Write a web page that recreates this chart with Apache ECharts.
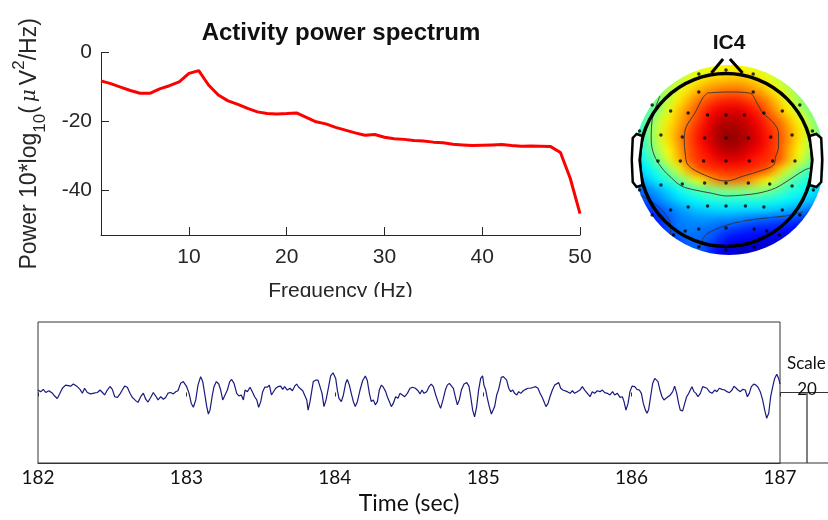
<!DOCTYPE html>
<html><head><meta charset="utf-8">
<script src="https://cdn.jsdelivr.net/npm/echarts@6/dist/echarts.min.js"></script>
<style>
html,body{margin:0;padding:0;background:#fff;overflow:hidden;}
#wrap{position:relative;width:828px;height:520px;overflow:hidden;}
#heat{position:absolute;left:624px;top:55px;width:210px;height:210px;filter:blur(4px);clip-path:circle(95px at 105px 105px);}
#main{position:absolute;left:0;top:0;width:828px;height:520px;z-index:2;}
</style></head><body>
<div id="wrap"><div id="heat"></div><div id="main"></div></div>
<script>
// ---------- power spectrum ----------
const freqHz = [1,2,3,4,5,6,7,8,9,10,11,12,13,14,15,16,17,18,19,20,21,22,23,24,25,26,27,28,29,30,31,32,33,34,35,36,37,38,39,40,41,42,43,44,45,46,47,48,49,50];
const powerDb = [-8.2,-9.0,-10.0,-11.0,-11.8,-11.8,-10.5,-9.6,-8.5,-6.0,-5.2,-9.4,-12.3,-14.0,-15.0,-16.2,-17.2,-17.7,-17.8,-17.7,-17.5,-18.8,-20.1,-20.7,-21.7,-22.5,-23.3,-24.0,-23.8,-24.6,-25.0,-25.2,-25.5,-25.7,-26.0,-26.2,-26.6,-26.8,-27.0,-26.9,-26.8,-26.7,-27.0,-27.2,-27.1,-27.2,-27.3,-29.0,-36.5,-46.8];
const freqTicks = [10,20,30,40,50];
const powerTicks = [-40,-20,0];

// ---------- EEG activity trace (sec, µV) ----------
const eegTime = [
182.000,182.018,182.036,182.052,182.074,182.097,182.112,182.130,182.148,182.164,
182.186,182.198,182.220,182.238,182.261,182.283,182.299,182.314,182.332,182.355,
182.377,182.400,182.418,182.434,182.449,182.467,182.485,182.501,182.517,182.535,
182.553,182.568,182.584,182.602,182.620,182.636,182.658,182.674,182.692,182.710,
182.726,182.741,182.759,182.777,182.793,182.809,182.827,182.845,182.860,182.876,
182.894,182.912,182.928,182.943,182.961,182.979,
183.002,183.018,183.033,183.047,183.063,183.078,183.096,183.110,183.123,183.137,
183.148,183.159,183.173,183.186,183.202,183.218,183.231,183.245,183.258,183.276,
183.292,183.305,183.321,183.339,183.355,183.370,183.384,183.395,183.411,183.429,
183.444,183.460,183.474,183.487,183.501,183.514,183.528,183.546,183.559,183.573,
183.586,183.602,183.617,183.635,183.649,183.662,183.680,183.698,183.714,183.730,
183.743,183.757,183.770,183.784,183.797,183.811,183.820,183.833,183.844,183.855,
183.871,183.887,183.900,183.914,183.927,183.941,183.954,183.972,183.988,
184.006,184.017,184.028,184.044,184.058,184.073,184.084,184.098,184.111,184.125,
184.138,184.152,184.170,184.188,184.206,184.219,184.233,184.246,184.260,184.273,
184.287,184.300,184.314,184.327,184.343,184.354,184.368,184.381,184.394,184.410,
184.426,184.439,184.455,184.471,184.489,184.507,184.525,184.543,184.561,184.574,
184.588,184.601,184.619,184.635,184.650,184.664,184.680,184.695,184.713,184.729,
184.745,184.758,184.772,184.785,184.799,184.812,184.826,184.839,184.853,184.871,
184.889,184.904,184.916,184.929,184.942,184.956,184.969,184.983,184.996,
185.005,185.017,185.028,185.041,185.055,185.064,185.077,185.091,185.104,185.113,
185.122,185.136,185.149,185.158,185.172,185.185,185.199,185.212,185.226,185.239,
185.253,185.270,185.286,185.302,185.320,185.338,185.354,185.369,185.383,185.396,
185.410,185.423,185.437,185.450,185.466,185.482,185.495,185.509,185.522,185.536,
185.549,185.567,185.585,185.601,185.616,185.634,185.652,185.668,185.684,185.702,
185.720,185.735,185.751,185.769,185.787,185.803,185.819,185.837,185.854,185.872,
185.886,185.904,185.922,185.938,185.949,185.962,185.976,185.989,186.003,
186.021,186.036,186.052,186.066,186.079,186.093,186.104,186.115,186.128,186.142,
186.156,186.165,186.178,186.191,186.205,186.218,186.232,186.245,186.261,186.277,
186.290,186.304,186.317,186.328,186.344,186.358,186.371,186.385,186.398,186.407,
186.420,186.434,186.447,186.463,186.479,186.492,186.508,186.524,186.542,186.560,
186.575,186.591,186.609,186.627,186.643,186.659,186.677,186.690,186.703,186.717,
186.733,186.748,186.766,186.780,186.793,186.807,186.823,186.838,186.852,186.867,
186.883,186.897,186.910,186.924,186.937,186.951,186.964,186.978,186.991,187.000];
const eegUv = [
0.7,0.2,0.9,0.0,0.5,-0.2,-1.0,-1.7,-0.2,1.2,
2.1,2.4,1.8,2.4,1.8,0.9,-0.2,1.2,0.0,-0.4,
-0.2,0.0,0.7,0.0,-0.7,0.7,1.7,0.9,-1.2,-1.4,
-0.4,0.7,1.8,1.5,-0.2,-1.4,-2.3,-2.8,-1.2,-0.2,
-1.9,-2.7,-1.4,0.0,-1.0,-2.1,-1.2,-1.9,-1.4,-0.2,
0.0,-0.4,0.2,0.5,2.6,3.1,
1.65,-0.24,-3.1,-4.2,-2.1,2.1,4.5,3.1,-0.24,-4.0,
-6.1,-5.0,-1.2,1.65,3.1,2.4,0.7,-2.1,-1.65,0.7,
3.1,3.7,2.6,-0.24,-1.0,-0.7,-2.1,0.7,0.24,1.5,
0.24,-1.2,-2.1,-4.2,-2.6,0.24,1.5,1.5,2.1,-0.7,
-0.24,1.2,1.65,1.8,0.9,1.65,0.7,1.2,0.5,1.8,
2.4,1.5,1.8,0.5,0.7,-2.1,-5.0,-2.6,0.24,3.1,
3.5,3.5,3.7,-0.24,-4.0,-2.1,0.7,4.7,5.6,
4.0,0.7,-1.65,-2.6,-0.7,2.6,3.7,2.1,-0.24,-2.6,
-4.0,-2.6,0.7,3.4,4.7,3.4,-0.24,-2.6,-2.1,-3.5,
-2.6,0.7,2.1,1.5,0.24,-1.2,-2.6,-4.0,-3.1,-1.2,
-1.65,-0.24,-0.7,-1.2,-0.24,1.2,1.5,1.2,0.5,-0.4,
0.7,-0.24,0.24,1.65,2.4,1.65,-0.7,-2.6,-4.5,-2.1,
0.7,2.1,2.6,2.4,1.2,-1.2,-3.5,-2.1,0.7,2.4,
2.8,1.8,-1.2,-5.0,-6.9,-4.0,0.7,4.0,4.7,
2.1,0.7,-1.65,-4.0,-6.1,-6.4,-4.0,-0.7,0.9,2.6,
4.3,4.5,4.3,3.5,1.2,0.24,0.7,-0.24,-0.7,0.24,
-0.24,0.5,0.9,1.2,1.2,1.5,1.65,1.2,-0.24,-1.2,
-2.6,-4.0,-3.1,-1.2,0.7,2.1,2.4,2.8,1.2,0.7,
1.2,0.24,-0.24,0.5,-0.24,0.24,0.7,1.65,0.7,-0.24,
-1.2,0.24,-0.24,0.5,0.24,0.7,-0.05,-0.24,-0.7,0.24,
-0.7,-0.24,-1.4,-1.2,-2.6,-5.0,-3.1,0.24,1.8,
1.65,0.9,0.7,-0.24,-3.1,-5.0,-5.9,-4.8,-1.2,2.6,
4.0,4.5,3.1,0.7,-1.2,-2.1,-1.65,-1.2,-0.7,0.24,
1.8,-0.24,-3.1,-5.0,-5.2,-3.1,-1.2,-0.24,0.9,1.65,
0.24,-0.24,-1.2,-0.24,1.65,1.8,1.2,0.24,-0.24,0.7,
0.24,1.2,0.9,0.7,0.24,-0.05,0.7,1.8,1.65,0.7,
0.24,0.9,0.7,-1.2,-0.24,1.65,2.4,2.1,1.5,0.24,
-2.1,-5.0,-7.3,-5.9,-1.2,1.65,4.0,5.2,4.0,2.4];
const timeRange = [182, 187];
const scaleUv = 20;

// ---------- IC4 scalp map (jet scale position ×100, rows top→bottom) ----------
const topoX = [-100,-90,-80,-70,-60,-50,-40,-30,-20,-10,0,10,20,30,40,50,60,70,80,90,100];
const topoY = [100,90,80,70,60,50,40,30,20,10,0,-10,-20,-30,-40,-50,-60,-70,-80,-90,-100];
const topoRows = [
[41,43,46,49,52,54,56,58,60,62,63,63,61,59,57,55,52,49,46,44,42],
[42,44,47,50,53,55,57,59,61,63,64,64,62,60,58,56,53,50,47,45,43],
[40,42,45,48,52,56,60,64,67,68,69,69,68,65,61,57,53,49,46,43,41],
[40,43,46,51,55,60,65,70,73,75,76,76,74,71,66,61,56,52,48,45,42],
[40,44,47,50,57,64,70,76,80,83,84,84,81,78,73,66,60,53,49,46,43],
[38,42,45,52,60,68,74,80,85,89,90,90,87,83,77,70,63,56,50,46,43],
[37,42,48,56,64,70,76,82,88,93,94,94,91,87,81,76,69,62,55,48,44],
[36,42,50,58,66,72,79,85,90,96,97,96,93,89,84,79,72,65,57,50,45],
[35,40,48,58,66,73,80,86,91,96,98,97,94,90,85,80,73,65,57,48,44],
[34,39,46,55,63,71,79,84,88,93,95,94,91,88,84,79,71,63,55,47,43],
[32,36,42,50,60,69,79,83,85,89,90,90,87,84,83,80,70,60,52,45,42],
[30,33,37,42,50,60,71,79,82,83,84,84,83,82,78,67,58,50,45,40,37],
[26,28,33,38,42,48,56,63,70,76,78,77,74,68,62,55,48,43,40,37,34],
[20,22,26,30,34,38,42,46,48,51,52,52,52,53,50,46,42,40,37,34,31],
[16,18,22,26,30,34,36,38,40,41,41,41,41,41,40,39,37,35,33,30,27],
[13,15,17,20,24,27,30,32,33,34,34,34,34,34,33,32,30,28,23,20,18],
[11,12,13,16,21,25,26,27,27,26,26,25,23,22,21,20,19,17,15,13,12],
[10,11,12,15,20,24,25,24,23,21,19,17,16,15,15,14,13,12,11,10,10],
[9,10,11,13,16,20,23,23,21,17,13,12,11,10,10,9,9,8,8,8,8],
[8,9,10,12,15,18,21,22,17,12,9,8,7,7,7,7,7,7,7,7,7],
[7,8,9,11,14,17,20,21,16,11,8,7,6,6,6,6,6,6,6,6,6]];
const jetColors = ['#00007f','#0000ff','#007fff','#00ffff','#7fff7f','#ffff00','#ff7f00','#ff0000','#7f0000'];

const electrodes = [[-28,86],[0,90],[28,86],[-28,68],[28,68],[-76,55],[76,55],
[-57,49],[-39,47],[-19,45],[0,45],[19,45],[39,47],[58,49],[-89,29],[89,29],
[-67,25],[-45,23],[-22,22],[0,22],[23,22],[46,23],[68,25],
[-70,-1],[-47,-1],[-23,-1],[0,-1],[24,-1],[48,-1],[71,-1],[-89,-30],[90,-30],
[-67,-25],[-45,-24],[-22,-23],[0,-23],[23,-23],[45,-24],[68,-26],
[-57,-50],[-39,-47],[-19,-46],[0,-46],[20,-46],[39,-47],[58,-50],[-76,-55],[76,-55],
[-42,-71],[-28,-69],[0,-68],[29,-69],[42,-71],[-54,-75],[55,-75],[-28,-87],[0,-90],[29,-87]];
const contourInner = [[-19,67],[1,68],[24,67],[33,55],[38,47],[49,37],[54,27],[54,13],[51,3],[49,-5],[38,-10],[18,-16],[0,-21],[-22,-15],[-39,-5],[-42,7],[-43,20],[-41,33],[-32,47],[-24,62],[-19,67]];
const contourMid = [[-68,64],[-76,40],[-77,20],[-74,5],[-66,-8],[-56,-18],[-46,-26],[-32,-30],[-16,-33],[1,-36],[18,-35],[34,-33],[51,-28],[68,-18],[81,-10],[94,-6]];
const contourLow = [[-27,-88],[-22,-76],[-12,-70],[1,-65],[18,-61],[41,-58],[61,-56],[79,-52]];
const contourCorner = [[-88,-35],[-72,-45],[-62,-55],[-57,-65],[-57,-75]];
const headRadius = 89;
const noseLeft = [[-15,87],[-3,101]];
const noseRight = [[4,101],[17,87]];
const earLeft = [[-86,24],[-92,26],[-96,22],[-97,0],[-96,-22],[-92,-27],[-86,-25],[-89,0]];
const earRight = [[86,24],[93,26],[98,22],[99,0],[98,-22],[93,-27],[86,-25],[89,0]];

// ---------- scalp map heat layer ----------
const heatData = [];
topoRows.forEach((row, r) => row.forEach((v, c) => heatData.push([c, r, v])));
const heatChart = echarts.init(document.getElementById('heat'));
heatChart.setOption({
  animation: false,
  grid: {left: 0, right: 0, top: 0, bottom: 0},
  xAxis: {type: 'category', data: topoX, show: false},
  yAxis: {type: 'category', data: topoY, inverse: true, show: false},
  visualMap: {show: false, min: 0, max: 100, dimension: 2, inRange: {color: jetColors}},
  series: [{type: 'heatmap', data: heatData, itemStyle: {borderWidth: 0}}]
});

// ---------- main chart ----------
const F1 = '"Liberation Sans", Arial, sans-serif';
const F2 = 'Lato, "Open Sans", sans-serif';
const axisCol = '#262626';
const chart = echarts.init(document.getElementById('main'));
const headSeries = (data) => ({type: 'line', xAxisIndex: 3, yAxisIndex: 2, data: data, symbol: 'none', smooth: 0.35, lineStyle: {color: '#333', width: 0.9}, z: 3, silent: true});
chart.setOption({
  animation: false,
  backgroundColor: 'rgba(0,0,0,0)',
  title: [
    {text: 'Activity power spectrum', left: 341, top: 21, textAlign: 'center', padding: 0,
     textStyle: {fontFamily: F1, fontSize: 24, fontWeight: 'bold', color: '#111'}},
    {text: 'IC4', left: 729, top: 33, textAlign: 'center', padding: 0,
     textStyle: {fontFamily: F1, fontSize: 21, fontWeight: 'bold', color: '#111'}}
  ],
  grid: [
    {left: 101, top: 52.7, width: 479, height: 182.3},
    {left: 38, top: 322, width: 742, height: 141, show: true, borderColor: '#333', borderWidth: 1, backgroundColor: 'rgba(0,0,0,0)'},
    {left: 624, top: 55, width: 210, height: 210}
  ],
  xAxis: [
    {gridIndex: 0, type: 'value', min: 1, max: 50,
     axisLine: {show: true, onZero: false, lineStyle: {color: axisCol, width: 1}},
     axisTick: {show: true, inside: true, length: 8, customValues: freqTicks, lineStyle: {color: axisCol}},
     axisLabel: {customValues: freqTicks, fontFamily: F1, fontSize: 21, color: axisCol, margin: 12},
     splitLine: {show: false},
     name: 'Frequency (Hz)', nameLocation: 'middle', nameGap: 46,
     nameTextStyle: {fontFamily: F1, fontSize: 21, color: axisCol}},
    {gridIndex: 1, type: 'value', min: timeRange[0], max: timeRange[1], interval: 1,
     axisLine: {show: true, onZero: false, lineStyle: {color: '#333', width: 1}},
     axisTick: {show: false},
     axisLabel: {fontFamily: F2, fontSize: 19, color: '#111', margin: 5},
     splitLine: {show: false},
     name: 'Time (sec)', nameLocation: 'middle', nameGap: 29,
     nameTextStyle: {fontFamily: F2, fontSize: 23, color: '#111'}},
    {gridIndex: 1, type: 'value', position: 'top', min: timeRange[0], max: timeRange[1], interval: 1,
     axisLine: {show: false}, axisTick: {show: true, inside: true, length: 4, lineStyle: {color: '#333'}},
     axisLabel: {show: false}, splitLine: {show: false}},
    {gridIndex: 2, type: 'value', min: -105, max: 105, show: false}
  ],
  yAxis: [
    {gridIndex: 0, type: 'value', min: -53, max: 0,
     axisLine: {show: true, onZero: false, lineStyle: {color: axisCol, width: 1}},
     axisTick: {show: true, inside: true, length: 8, customValues: powerTicks, lineStyle: {color: axisCol}},
     axisLabel: {customValues: powerTicks, fontFamily: F1, fontSize: 21, color: axisCol, margin: 9},
     splitLine: {show: false},
     name: '{a|Power 10*log}{s|10}{a|(}{m|μ}{a|V}{p|2}{a|/Hz)}',
     nameLocation: 'middle', nameRotate: 90, nameGap: 52,
     nameTextStyle: {fontFamily: F1, fontSize: 23, color: axisCol, rich: {
       a: {fontFamily: F1, fontSize: 23, lineHeight: 38, color: axisCol},
       s: {fontFamily: F1, fontSize: 17, lineHeight: 17, verticalAlign: 'bottom', color: axisCol},
       p: {fontFamily: F1, fontSize: 17, lineHeight: 17, verticalAlign: 'top', color: axisCol},
       m: {fontFamily: '"DejaVu Serif", serif', fontStyle: 'italic', fontSize: 20, lineHeight: 38, padding: [0, 4, 0, 4], color: axisCol}
     }}},
    {gridIndex: 1, type: 'value', min: -scaleUv, max: scaleUv, show: false},
    {gridIndex: 2, type: 'value', min: -105, max: 105, show: false}
  ],
  series: [
    {type: 'line', xAxisIndex: 0, yAxisIndex: 0, data: freqHz.map((f, i) => [f, powerDb[i]]),
     symbol: 'none', lineStyle: {color: '#ff0000', width: 3}, z: 5},
    {type: 'line', xAxisIndex: 1, yAxisIndex: 1, data: eegTime.map((t, i) => [t, eegUv[i]]),
     symbol: 'none', lineStyle: {color: '#1a1a7e', width: 1.2}, z: 5},
    headSeries(contourInner), headSeries(contourMid), headSeries(contourLow), headSeries(contourCorner),
    {type: 'scatter', xAxisIndex: 3, yAxisIndex: 2, data: electrodes, symbolSize: 3.5,
     itemStyle: {color: '#000'}, z: 6, silent: true}
  ]
});

// decorations positioned through the axes
const hp = p => chart.convertToPixel({xAxisIndex: 3, yAxisIndex: 2}, p);
const ep = p => chart.convertToPixel({xAxisIndex: 1, yAxisIndex: 1}, p);
const hc = hp([0, 0]);
const hr = hp([headRadius, 0])[0] - hc[0];
const s0 = ep([timeRange[1], 0]);
const sB = ep([timeRange[1], -scaleUv]);
const barX = s0[0] + 27;
chart.setOption({graphic: [
  {type: 'circle', shape: {cx: hc[0], cy: hc[1], r: hr}, style: {fill: 'none', stroke: '#000', lineWidth: 3.5}, z: 4, silent: true},
  {type: 'polygon', shape: {points: earLeft.map(hp)}, style: {fill: '#fff', stroke: '#000', lineWidth: 2.5}, z: 4, silent: true},
  {type: 'polygon', shape: {points: earRight.map(hp)}, style: {fill: '#fff', stroke: '#000', lineWidth: 2.5}, z: 4, silent: true},
  {type: 'polyline', shape: {points: noseLeft.map(hp)}, style: {stroke: '#000', lineWidth: 3}, z: 4, silent: true},
  {type: 'polyline', shape: {points: noseRight.map(hp)}, style: {stroke: '#000', lineWidth: 3}, z: 4, silent: true},
  {type: 'line', shape: {x1: s0[0], y1: s0[1], x2: s0[0] + 48, y2: s0[1]}, style: {stroke: '#333', lineWidth: 1}, z: 4, silent: true},
  {type: 'line', shape: {x1: barX, y1: s0[1], x2: barX, y2: sB[1]}, style: {stroke: '#555', lineWidth: 1.5}, z: 4, silent: true},
  {type: 'line', shape: {x1: sB[0], y1: sB[1], x2: sB[0] + 48, y2: sB[1]}, style: {stroke: '#333', lineWidth: 1}, z: 4, silent: true},
  {type: 'text', x: s0[0] + 7, y: s0[1] - 29, style: {text: 'Scale', font: '17px ' + F2, fill: '#111', align: 'left', verticalAlign: 'middle', textAlign: 'left', textVerticalAlign: 'middle'}, z: 5, silent: true},
  {type: 'text', x: barX, y: s0[1] - 3, style: {text: String(scaleUv), font: '17px ' + F2, fill: '#111', align: 'center', verticalAlign: 'middle', textAlign: 'center', textVerticalAlign: 'middle'}, z: 5, silent: true},
  {type: 'rect', shape: {x: 240, y: 297, width: 200, height: 18}, style: {fill: '#fff'}, z: 10, silent: true}
]});
</script></body></html>
